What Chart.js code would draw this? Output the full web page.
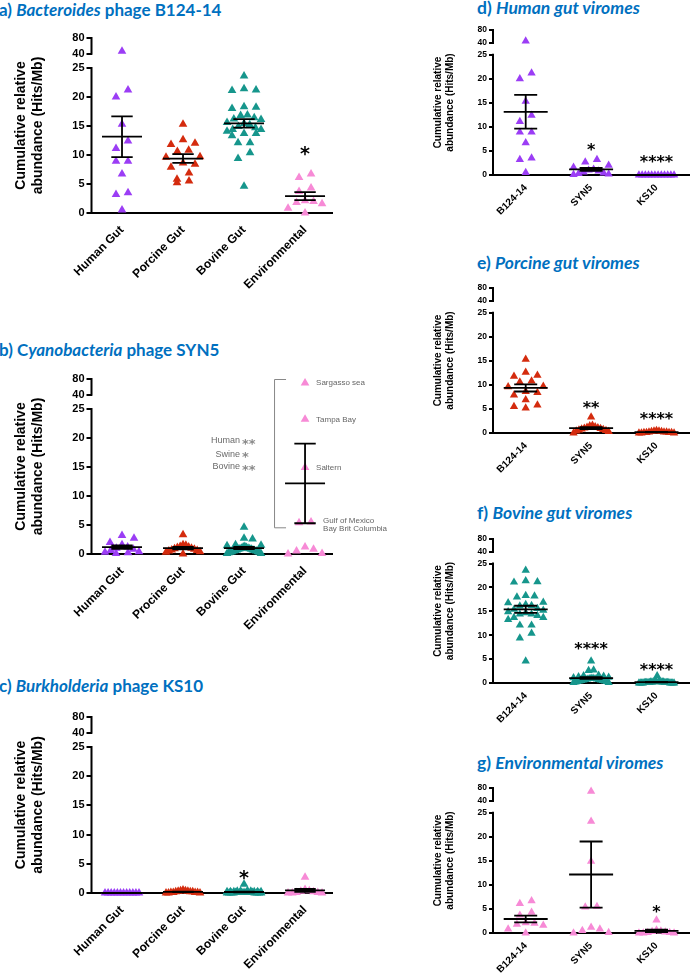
<!DOCTYPE html>
<html lang="en">
<head>
<meta charset="UTF-8">
<title>Phage signature abundance</title>
<script src="https://cdn.jsdelivr.net/npm/chart.js@4.4.1/dist/chart.umd.min.js"></script>
<style>
  body { margin: 0; width: 694px; height: 978px; position: relative; overflow: hidden; background: #fff; }
  canvas { position: absolute; }
  .ttl { position: absolute; font-family: Lato, "Open Sans", sans-serif; font-weight: bold; font-size: 17px; line-height: 17px; color: #0070c0; white-space: nowrap; }
  .rt { font-size: 17.5px; }
</style>
</head>
<body>
<div class="ttl" style="left:-1px;top:1px">a) <i>Bacteroides</i> phage B124-14</div>
<div class="ttl" style="left:-1px;top:341px">b) C<i>yanobacteria</i> phage SYN5</div>
<div class="ttl" style="left:-1px;top:677px">c) <i>Burkholderia</i> phage KS10</div>
<div class="ttl rt" style="left:477px;top:-1px">d) <i>Human gut viromes</i></div>
<div class="ttl rt" style="left:477px;top:254px">e) <i>Porcine gut viromes</i></div>
<div class="ttl rt" style="left:477px;top:504px">f) <i>Bovine gut viromes</i></div>
<div class="ttl rt" style="left:477px;top:754px">g) <i>Environmental viromes</i></div>

<canvas id="pa"></canvas>
<canvas id="pb"></canvas>
<canvas id="pc"></canvas>
<canvas id="pd"></canvas>
<canvas id="pe"></canvas>
<canvas id="pf"></canvas>
<canvas id="pg"></canvas>

<script>
// categories
const sourceLabels = ['Human Gut', 'Porcine Gut', 'Bovine Gut', 'Environmental'];
const sourceLabelsB = ['Human Gut', 'Procine Gut', 'Bovine Gut', 'Environmental'];
const phageLabels = ['B124-14', 'SYN5', 'KS10'];
const sourceColors = ['#9b3df5', '#d42b0e', '#16968c', '#f78ad6'];

// cumulative relative abundance (hits/Mb), one value per virome
const humanB124 = [46, 21.2, 20.0, 15.3, 12.4, 11.1, 8.9, 8.9, 6.7, 3.5, 3.2, 0.5];
const porcineB124 = [15.3, 12.6, 11.8, 12.0, 10.8, 10.6, 9.7, 9.6, 8.4, 7.9, 8.6, 5.8, 5.2, 5.5, 6.9];
const bovineB124 = [23.6, 21.2, 21.1, 21.4, 18.3, 18.0, 18.2, 16.4, 16.1, 16.9, 16.8, 16.2, 15.6, 15.4,
  15.2, 14.9, 14.1, 14.4, 14.4, 14.7, 13.7, 13.3, 13.7, 12.1, 12.1, 10.4, 9.4, 4.6];
const envB124 = [6.7, 6.1, 4.3, 3.7, 2.1, 2.0, 1.8, 1.6, 0.8, 0.0];

const humanSYN5 = [3.2, 2.7, 2.0, 1.6, 1.2, 1.0, 0.8, 0.6, 0.4, 0.3, 0.2, 0.1];
const porcineSYN5 = [3.3, 1.6, 1.5, 1.3, 1.2, 1.1, 1.0, 0.9, 0.8, 0.7, 0.6, 0.5, 0.4, 0.3, 0.0];
const bovineSYN5 = [4.6, 2.7, 2.6, 1.6, 1.5, 1.4, 1.3, 1.2, 1.1, 1.0, 1.0, 0.9, 0.9, 0.8, 0.8, 0.7,
  0.7, 0.6, 0.6, 0.5, 0.5, 0.4, 0.4, 0.3, 0.3, 0.2, 0.1, 0.1];
const envSYN5 = [70, 23.2, 14.9, 5.5, 5.4, 1.2, 0.5, 0.0, 0.1, 0.8];
const envSites = ['Sargasso sea', 'Tampa Bay', 'Saltern', 'Gulf of Mexico', 'Bay Brit Columbia'];

const humanKS10 = [0, 0, 0, 0, 0, 0, 0, 0, 0, 0, 0, 0];
const porcineKS10 = [0.5, 0.4, 0.4, 0.3, 0.3, 0.2, 0.2, 0.2, 0.1, 0.1, 0.1, 0.1, 0.0, 0.0, 0.0];
const bovineKS10 = [1.5, 0.4, 0.3, 0.3, 0.3, 0.2, 0.2, 0.2, 0.2, 0.2, 0.2, 0.1, 0.1, 0.1, 0.1, 0.1,
  0.1, 0.1, 0.1, 0.1, 0.0, 0.0, 0.0, 0.0, 0.0, 0.0, 0.0, 0.0];
const envKS10 = [2.7, 0.6, 0.4, 0.3, 0.2, 0.1, 0.1, 0.0, 0.0, 0.0];

// broken y axis: 0-25 linear, then 40-80 squeezed on top
const yTicks = [0, 5, 10, 15, 20, 25, 40, 80];
const GAP = 2.45, SEG = 2.7, YMAX = 25 + GAP + SEG;
function yPos(v) { return v <= 25 ? v : 25 + GAP + (v - 40) / 40 * SEG; }

const FONT = '"Liberation Sans", Arial, sans-serif';
const STAR_FONT = '"DejaVu Sans", sans-serif';
const PAD_TOP = 10;

const L = { w: 410, axisW: 91.5, padR: 77.5, xmax: 4.45, bottom: 85, tickFont: 11, xFont: 12, xPad: 10,
  titleFont: 14, titlePad: 13.2, tickLen: 5, r: 5, meanW: 20, capW: 10.7, starFont: 19, maxHalf: 17 };
const R = { w: 284, axisW: 83, padR: 0, xmax: 3.5, bottom: 58, tickFont: 8.5, xFont: 10, xPad: 7,
  titleFont: 10, titlePad: 22.5, tickLen: 4, r: 4.8, meanW: 22, capW: 11.5, starFont: 16, maxHalf: 18 };

const purple = sourceColors[0], red = sourceColors[1], teal = sourceColors[2], pink = sourceColors[3];

const panels = [
  { id: 'pa', x: 0, top: 38, zero: 213.3, s: L, cats: sourceLabels,
    groups: [humanB124, porcineB124, bovineB124, envB124], colors: sourceColors, stars: [[4, '*', 10.9]] },
  { id: 'pb', x: 0, top: 379, zero: 554, s: L, cats: sourceLabelsB,
    groups: [humanSYN5, porcineSYN5, bovineSYN5, envSYN5], colors: sourceColors, stars: [], notes: true },
  { id: 'pc', x: 0, top: 717.3, zero: 893.3, s: L, cats: sourceLabels,
    groups: [humanKS10, porcineKS10, bovineKS10, envKS10], colors: sourceColors, stars: [[3, '*', 3.3]] },
  { id: 'pd', x: 410, top: 30, zero: 175, s: R, cats: phageLabels,
    groups: [humanB124, humanSYN5, humanKS10], colors: [purple, purple, purple], stars: [[2, '*', 6.1], [3, '****', 3.6]] },
  { id: 'pe', x: 410, top: 287.7, zero: 432.7, s: R, cats: phageLabels,
    groups: [porcineB124, porcineSYN5, porcineKS10], colors: [red, red, red], stars: [[2, '**', 6.1], [3, '****', 3.7]] },
  { id: 'pf', x: 410, top: 539.3, zero: 683.3, s: R, cats: phageLabels,
    groups: [bovineB124, bovineSYN5, bovineKS10], colors: [teal, teal, teal], stars: [[2, '****', 8.0], [3, '****', 3.6]] },
  { id: 'pg', x: 410, top: 787.7, zero: 932.7, s: R, cats: phageLabels,
    groups: [envB124, envSYN5, envKS10], colors: [pink, pink, pink], stars: [[3, '*', 5.1]] }
];

function stats(vals) {
  const n = vals.length;
  const m = vals.reduce((a, b) => a + b, 0) / n;
  const sd = Math.sqrt(vals.reduce((a, b) => a + (b - m) * (b - m), 0) / (n - 1));
  return { mean: m, sem: sd / Math.sqrt(n) };
}

// column scatter: points closer than a triangle height share a row and are spread sideways
function swarm(vals, pxX, pxY, maxHalf) {
  const idx = vals.map((v, i) => i).sort((a, b) => vals[b] - vals[a]);
  const off = new Array(vals.length).fill(0);
  let row = [];
  const flush = () => {
    const n = row.length;
    const step = n > 1 ? Math.min(12, 2 * maxHalf / (n - 1)) : 0;
    const slots = row.map((_, j) => j - (n - 1) / 2).sort((a, b) => Math.abs(a) - Math.abs(b) || b - a);
    row.forEach((i, j) => { off[i] = slots[j] * step / pxX; });
    row = [];
  };
  idx.forEach(i => {
    if (row.length && (yPos(vals[row[0]]) - yPos(vals[i])) * pxY > 8) flush();
    row.push(i);
  });
  flush();
  return off;
}

function decor(p) {
  const s = p.s;
  return {
    id: 'decor',
    beforeDatasetsDraw(chart) {
      const ctx = chart.ctx, ys = chart.scales.y, x0 = chart.chartArea.left;
      ctx.save();
      ctx.strokeStyle = '#000';
      ctx.lineWidth = 2;
      ctx.beginPath();
      ctx.moveTo(x0, ys.getPixelForValue(0) + 1);
      ctx.lineTo(x0, ys.getPixelForValue(25) - 1);
      ctx.moveTo(x0, ys.getPixelForValue(yPos(40)) + 1);
      ctx.lineTo(x0, ys.getPixelForValue(yPos(80)) - 1);
      ctx.stroke();
      ctx.restore();
    },
    afterDatasetsDraw(chart) {
      const ctx = chart.ctx, xs = chart.scales.x, ys = chart.scales.y;
      ctx.save();
      ctx.strokeStyle = '#000';
      ctx.lineWidth = 1.8;
      p.groups.forEach((vals, g) => {
        const st = stats(vals);
        const cx = xs.getPixelForValue(g + 1);
        const my = ys.getPixelForValue(yPos(st.mean));
        const hi = ys.getPixelForValue(yPos(st.mean + st.sem));
        const lo = ys.getPixelForValue(yPos(Math.max(0, st.mean - st.sem)));
        ctx.beginPath();
        ctx.moveTo(cx - s.meanW, my); ctx.lineTo(cx + s.meanW, my);
        ctx.moveTo(cx - s.capW, hi); ctx.lineTo(cx + s.capW, hi);
        ctx.moveTo(cx - s.capW, lo); ctx.lineTo(cx + s.capW, lo);
        ctx.moveTo(cx, hi); ctx.lineTo(cx, lo);
        ctx.stroke();
      });
      // significance stars
      ctx.fillStyle = '#000';
      ctx.textAlign = 'center';
      ctx.textBaseline = 'alphabetic';
      ctx.font = 'bold ' + s.starFont + 'px ' + STAR_FONT;
      p.stars.forEach(([g, t, v]) => {
        ctx.fillText(t, xs.getPixelForValue(g), ys.getPixelForValue(v) + 0.56 * s.starFont);
      });
      if (p.notes) {
        const cx = xs.getPixelForValue(4);
        // site names beside the environmental SYN5 points
        ctx.fillStyle = '#666';
        ctx.font = '8px ' + FONT;
        ctx.textAlign = 'left';
        ctx.textBaseline = 'middle';
        envSites.forEach((name, i) => {
          const py = ys.getPixelForValue(yPos(envSYN5[i]));
          if (i < 3) ctx.fillText(name, cx + 11, py);
          else ctx.fillText(name, cx + 18, py + (i === 3 ? -1.5 : 6.5));
        });
        // bracket
        ctx.strokeStyle = '#888';
        ctx.lineWidth = 1;
        const bx = cx - 31, bt = ys.getPixelForValue(YMAX), bb = ys.getPixelForValue(4.6);
        ctx.beginPath();
        ctx.moveTo(bx + 12, bt + 0.5); ctx.lineTo(bx + 0.5, bt + 0.5); ctx.lineTo(bx + 0.5, bb + 0.5); ctx.lineTo(bx + 12, bb + 0.5);
        ctx.stroke();
        // comparison with the gut groups
        const comps = [['Human', '**', 19.5], ['Swine', '*', 17.2], ['Bovine', '**', 15.0]];
        comps.forEach(([who, sig, v]) => {
          const py = ys.getPixelForValue(v);
          ctx.fillStyle = '#6a6a6a';
          ctx.font = '9px ' + FONT;
          ctx.textAlign = 'right';
          ctx.textBaseline = 'middle';
          ctx.fillText(who, cx - 65, py);
          ctx.fillStyle = '#8a8a8a';
          ctx.font = 'bold 13px ' + STAR_FONT;
          ctx.textAlign = 'left';
          ctx.textBaseline = 'alphabetic';
          ctx.fillText(sig, cx - 63, py + 0.56 * 13);
        });
      }
      ctx.restore();
    }
  };
}

function makePanel(p) {
  const s = p.s;
  const cv = document.getElementById(p.id);
  const H = Math.round((p.zero - p.top) + PAD_TOP + s.bottom);
  cv.width = s.w;
  cv.height = H;
  cv.style.left = p.x + 'px';
  cv.style.top = (p.top - PAD_TOP) + 'px';
  const pxY = (p.zero - p.top) / YMAX;
  const pxX = (s.w - s.padR - s.axisW) / (s.xmax - 0.5);
  const datasets = p.groups.map((vals, g) => {
    const off = swarm(vals, pxX, pxY, s.maxHalf);
    return {
      data: vals.map((v, i) => ({ x: g + 1 + off[i], y: yPos(v) })),
      backgroundColor: p.colors[g],
      borderWidth: 0,
      pointStyle: 'triangle',
      pointRadius: s.r,
      clip: false
    };
  });
  new Chart(cv, {
    type: 'scatter',
    data: { datasets },
    options: {
      responsive: false,
      animation: false,
      events: [],
      layout: { padding: { top: PAD_TOP, right: s.padR, bottom: 0, left: 0 } },
      plugins: { legend: { display: false }, tooltip: { enabled: false } },
      scales: {
        x: {
          type: 'linear', min: 0.5, max: s.xmax,
          afterBuildTicks: sc => { sc.ticks = p.cats.map((c, i) => ({ value: i + 1 })); },
          afterFit: sc => { sc.height = s.bottom; },
          grid: { display: false, drawTicks: false },
          border: { display: true, color: '#000', width: 2 },
          ticks: {
            autoSkip: false, minRotation: 45, maxRotation: 45, padding: s.xPad, color: '#000',
            font: { family: FONT, size: s.xFont, weight: 'bold' },
            callback: v => p.cats[Math.round(v) - 1]
          }
        },
        y: {
          min: 0, max: YMAX,
          afterBuildTicks: sc => { sc.ticks = yTicks.map(v => ({ value: yPos(v) })); },
          afterFit: sc => { sc.width = s.axisW; },
          grid: { display: true, drawOnChartArea: false, drawTicks: true, tickLength: s.tickLen, color: '#000', lineWidth: 2 },
          border: { display: false },
          ticks: {
            padding: 2, color: '#000',
            font: { family: FONT, size: s.tickFont, weight: 'bold' },
            callback: (v, i) => String(yTicks[i])
          },
          title: {
            display: true, color: '#000',
            text: ['Cumulative relative', 'abundance (Hits/Mb)'],
            font: { family: FONT, size: s.titleFont, weight: 'bold', lineHeight: 1.18 },
            padding: { top: s.titlePad, bottom: 0 }
          }
        }
      }
    },
    plugins: [decor(p)]
  });
}

panels.forEach(makePanel);
</script>
</body>
</html>
